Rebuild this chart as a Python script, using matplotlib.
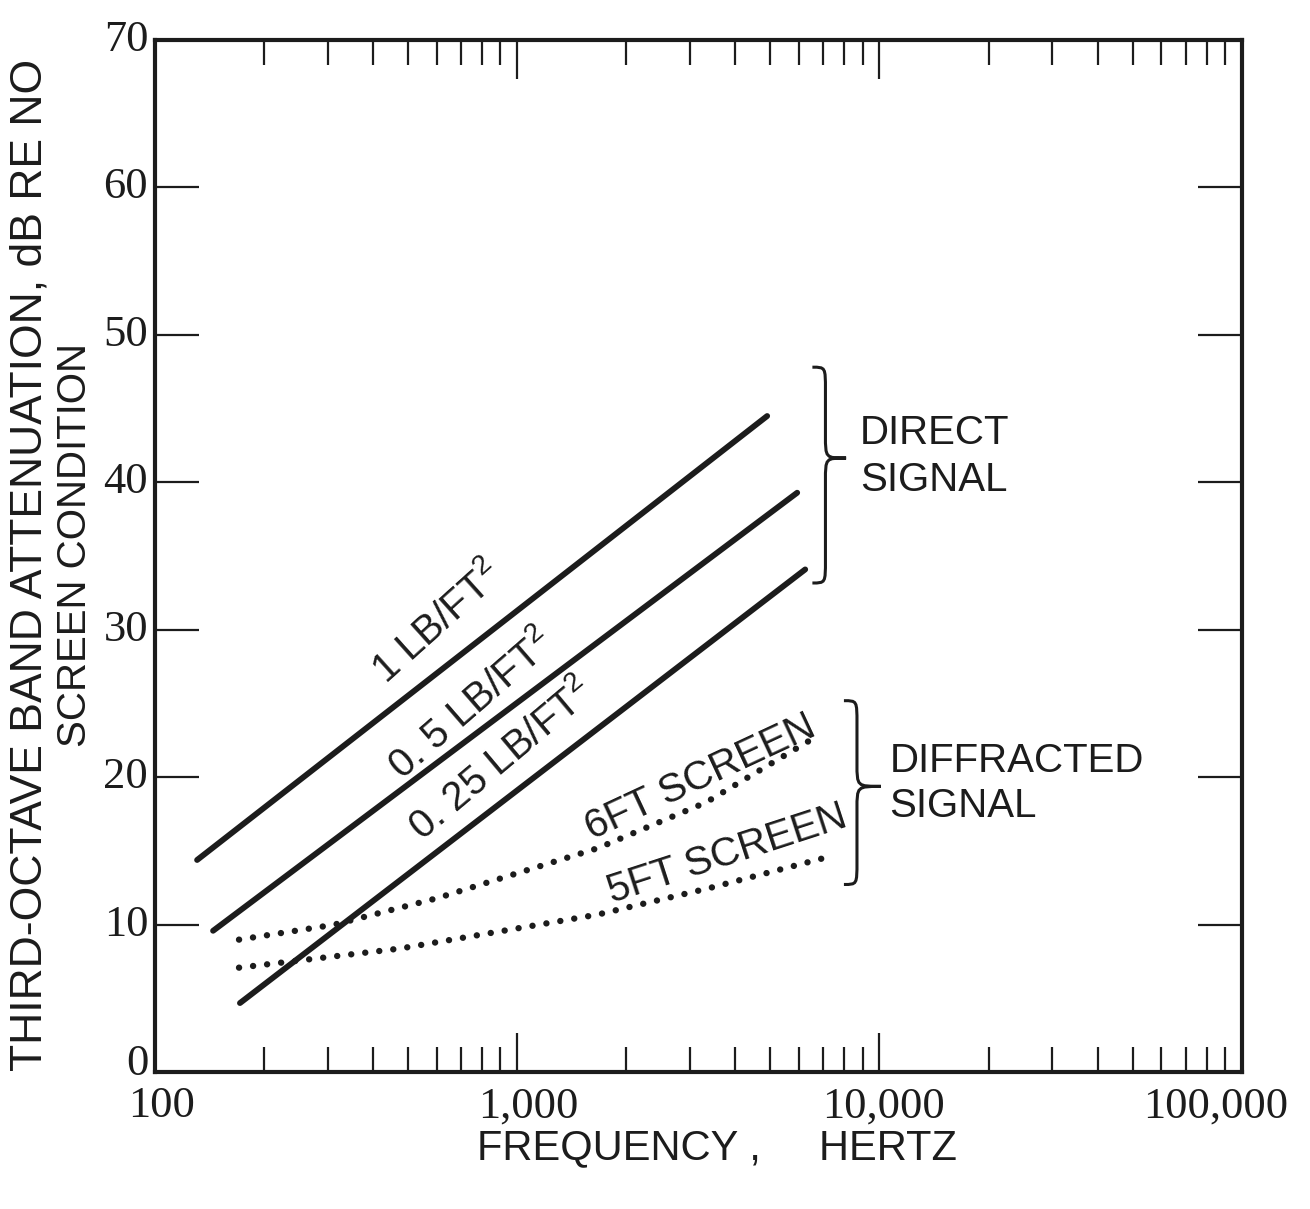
import matplotlib
matplotlib.use('Agg')
import matplotlib.pyplot as plt
from matplotlib.path import Path
from matplotlib.patches import PathPatch

# direct signal, straight lines on log-frequency axis (Hz, dB)
freq_1lb = [131, 4900]
att_1lb = [14.4, 44.5]
freq_05lb = [145, 5930]
att_05lb = [9.6, 39.3]
freq_025lb = [172, 6240]
att_025lb = [4.7, 34.1]

# diffracted signal, dotted curves
freq_6ft = [171, 311, 600, 1670, 3320, 6730]
att_6ft = [9.0, 10.0, 11.8, 15.2, 18.3, 22.8]
freq_5ft = [171, 477, 1670, 3400, 6950]
att_5ft = [7.1, 8.4, 10.7, 12.5, 14.5]

x_major = [1000, 10000]
x_minor = [m * d for d in (100, 1000, 10000) for m in range(2, 10)]
x_tick_vals = [100, 1000, 10000, 100000]
x_tick_text = ['100', '1,000', '10,000', '100,000']
x_tick_shift = [5, 8, 3, -19]   # points, label nudges as in the original
y_ticks = [10, 20, 30, 40, 50, 60]

INK = '#1c1c1c'
SANS = ['Liberation Sans', 'DejaVu Sans']
SERIF = ['Liberation Serif', 'DejaVu Serif']
plt.rcParams['mathtext.default'] = 'regular'

fig = plt.figure(figsize=(13.1, 12.09), dpi=100)
ax = fig.add_axes([0.118, 0.113, 0.830, 0.854])
ax.set_xscale('log')
ax.set_xlim(100, 100000)
ax.set_ylim(0, 70)

for f, a in [(freq_1lb, att_1lb), (freq_05lb, att_05lb), (freq_025lb, att_025lb)]:
    ax.plot(f, a, color=INK, lw=4.2, solid_capstyle='round')

for f, a in [(freq_6ft, att_6ft), (freq_5ft, att_5ft)]:
    ax.plot(f, a, color=INK, lw=4.6, dashes=[0.01, 2.2], dash_capstyle='round')

# spines and ticks
for sp in ax.spines.values():
    sp.set_linewidth(3.0)
    sp.set_color(INK)

ax.set_xticks(x_major)
ax.set_xticks(x_minor, minor=True)
ax.set_xticklabels([])
ax.tick_params(axis='x', which='major', direction='in', length=28, width=1.6,
               top=True, bottom=True, color=INK)
ax.tick_params(axis='x', which='minor', direction='in', length=18, width=1.6,
               top=True, bottom=True, color=INK)
ax.set_yticks(y_ticks)
ax.set_yticklabels([])
ax.tick_params(axis='y', which='major', direction='in', length=32, width=1.6,
               left=True, right=True, color=INK)

# tick labels as text so the corner values show
for v, lab, dx in zip(x_tick_vals, x_tick_text, x_tick_shift):
    ax.annotate(lab, (v, 0), xytext=(dx, -10), textcoords='offset points',
                ha='center', va='top', fontsize=32, family=SERIF, color=INK,
                annotation_clip=False)
for v in [0] + y_ticks + [70]:
    ax.text(96, v + (0.6 if v == 0 else 0), str(v), ha='right', va='center',
            fontsize=32, family=SERIF, color=INK)

# line labels
lab_kw = dict(ha='center', va='center', rotation_mode='anchor', fontsize=29,
              family=SANS, color=INK)
ax.text(604, 30.5, '1 LB/FT$^2$', rotation=42, **lab_kw)
ax.text(746, 24.9, '0. 5 LB/FT$^2$', rotation=41, **lab_kw)
ax.text(903, 21.2, '0. 25 LB/FT$^2$', rotation=40, **lab_kw)
ax.text(3200, 20.0, '6FT SCREEN', rotation=25, **lab_kw)
ax.text(3790, 14.8, '5FT SCREEN', rotation=18, **lab_kw)


def brace(ax, xv, ytop, ybot, ytip, w_end, w_tip, r):
    verts = [(xv - w_end, ytop),
             (xv, ytop), (xv, ytop), (xv, ytop - r),
             (xv, ytip + r),
             (xv, ytip), (xv, ytip), (xv + w_tip, ytip),
             (xv, ytip), (xv, ytip), (xv, ytip - r),
             (xv, ybot + r),
             (xv, ybot), (xv, ybot), (xv - w_end, ybot)]
    codes = [Path.MOVETO] + [Path.CURVE4] * 3 + [Path.LINETO] + \
        [Path.CURVE4] * 6 + [Path.LINETO] + [Path.CURVE4] * 3
    ax.add_patch(PathPatch(Path(verts, codes), fill=False, lw=2.2, ec=INK,
                           transform=ax.transAxes, clip_on=False))


brace(ax, 0.617, 0.683, 0.474, 0.595, 0.012, 0.019, 0.022)
brace(ax, 0.646, 0.360, 0.182, 0.277, 0.012, 0.022, 0.022)

grp_kw = dict(ha='left', va='center', fontsize=29, family=SANS, color=INK,
              transform=ax.transAxes)
ax.text(0.649, 0.619, 'DIRECT', **grp_kw)
ax.text(0.649, 0.574, 'SIGNAL', **grp_kw)
ax.text(0.676, 0.302, 'DIFFRACTED', **grp_kw)
ax.text(0.676, 0.258, 'SIGNAL', **grp_kw)

# axis titles
fig.text(0.547, 0.050, 'FREQUENCY ,     HERTZ', ha='center', va='center',
         fontsize=30, family=SANS, color=INK)
fig.text(0.023, 0.533, 'THIRD-OCTAVE BAND ATTENUATION, dB RE NO',
         rotation=90, ha='center', va='center', fontsize=32, family=SANS,
         color=INK)
fig.text(0.057, 0.549, 'SCREEN CONDITION', rotation=90, ha='center',
         va='center', fontsize=29, family=SANS, color=INK)

fig.savefig('out.png', dpi=100, facecolor='white')
